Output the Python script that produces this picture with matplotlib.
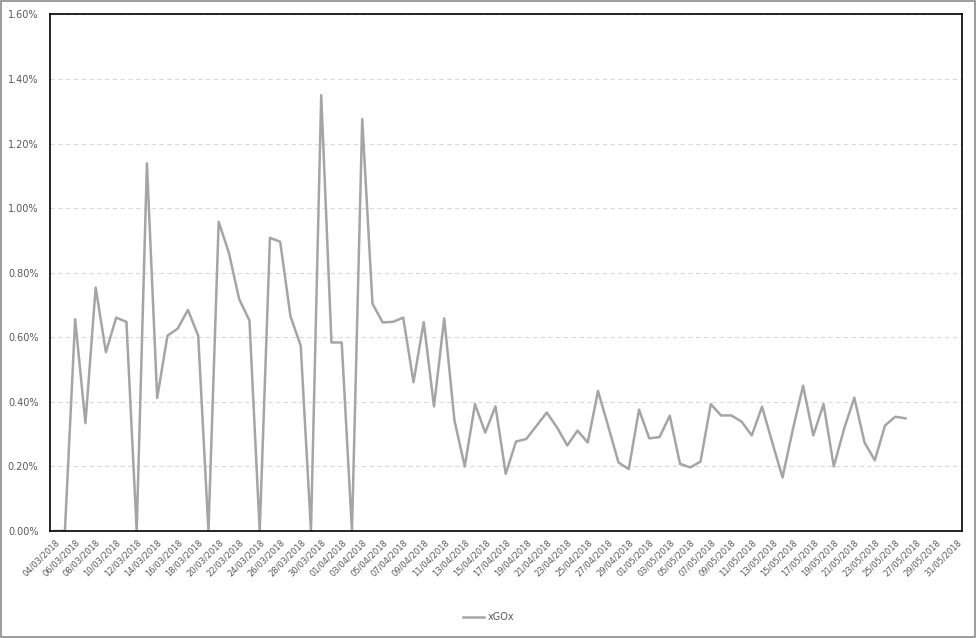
import numpy as np
import pandas as pd
import matplotlib
matplotlib.use("Agg")
import matplotlib.pyplot as plt
from matplotlib.patches import Rectangle

# Datos: xGOx diario (en %), del 04/03/2018 al 31/05/2018
fechas = pd.date_range("2018-03-04", "2018-05-31", freq="D")
etiquetas = [f.strftime("%d/%m/%Y") for f in fechas]

xgox = [
    0.000, 0.000, 0.656, 0.334, 0.754, 0.554, 0.661, 0.648, 0.000, 1.139,
    0.412, 0.605, 0.627, 0.685, 0.605, 0.000, 0.958, 0.861, 0.718, 0.652,
    0.000, 0.908, 0.896, 0.665, 0.574, 0.000, 1.350, 0.584, 0.584, 0.000,
    1.276, 0.704, 0.646, 0.648, 0.661, 0.461, 0.647, 0.386, 0.659, 0.342,
    0.200, 0.393, 0.305, 0.386, 0.177, 0.277, 0.285, 0.326, 0.367, 0.321,
    0.265, 0.311, 0.274, 0.434, 0.324, 0.212, 0.192, 0.376, 0.287, 0.291,
    0.357, 0.208, 0.197, 0.215, 0.393, 0.358, 0.358, 0.339, 0.296, 0.385,
    0.274, 0.166, 0.314, 0.450, 0.296, 0.393, 0.200, 0.316, 0.413, 0.274,
    0.219, 0.327, 0.354, 0.349,
]
# sin datos para los últimos días
xgox = xgox + [np.nan] * (len(fechas) - len(xgox))

fig = plt.figure(figsize=(9.77, 6.38), dpi=100)
ax = fig.add_axes([0.0507, 0.1677, 0.9339, 0.8096])

x = np.arange(len(fechas))
ax.plot(x, xgox, color="#A5A5A5", linewidth=1.8, label="xGOx")

ax.set_xlim(-0.5, len(fechas) - 0.5)
ax.set_ylim(0, 1.6)
ax.set_yticks(np.arange(0, 1.61, 0.2))
ax.set_yticklabels([f"{v:.2f}%" for v in np.arange(0, 1.61, 0.2)])
ax.set_xticks(x[::2])
ax.set_xticklabels(etiquetas[::2], rotation=45, ha="right", rotation_mode="anchor")

ax.tick_params(axis="both", length=0, labelcolor="#595959")
ax.tick_params(axis="x", pad=5, labelsize=6)
ax.tick_params(axis="y", pad=8, labelsize=7)
ax.yaxis.grid(True, color="#D9D9D9", linestyle=(0, (4, 3)), linewidth=0.8)
ax.set_axisbelow(True)
for s in ax.spines.values():
    s.set_color("black")
    s.set_linewidth(1.2)

fig.legend(loc="center", bbox_to_anchor=(0.5, 0.033), frameon=False,
           fontsize=7, labelcolor="#595959", handlelength=2.2, handletextpad=0.3)

# borde exterior del gráfico
fig.patches.append(Rectangle((0.001, 0.002), 0.997, 0.996, transform=fig.transFigure,
                             fill=False, edgecolor="#8C8C8C", linewidth=1.2))

fig.savefig("out.png", dpi=100)
